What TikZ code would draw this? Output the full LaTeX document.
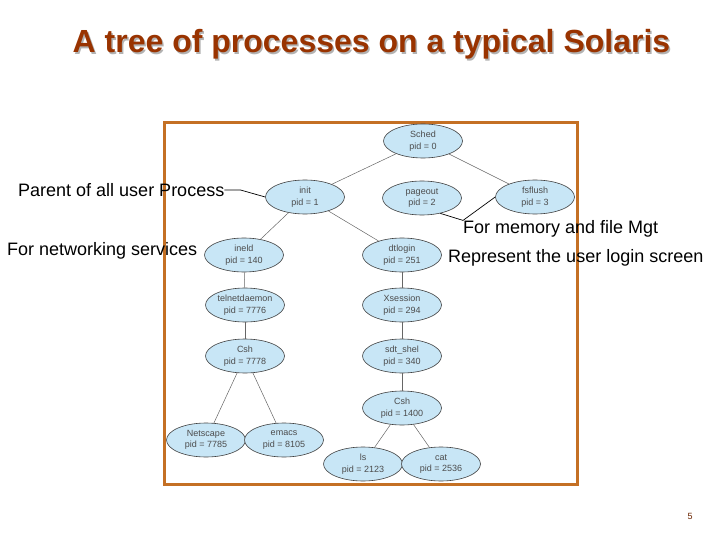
\documentclass[tikz,border=0pt]{standalone}
\usepackage{fontspec}
\setmainfont{Liberation Sans}
\usetikzlibrary{shapes.geometric}
\definecolor{titlered}{RGB}{153,51,0}
\definecolor{framebrown}{RGB}{196,112,36}
\definecolor{procblue}{RGB}{200,230,246}
\tikzset{
  proc/.style={ellipse, draw=black!75, line width=0.6pt, fill=procblue, minimum width=79pt, minimum height=34pt, inner sep=0pt, align=center, font=\fontsize{9}{11.5}\selectfont, text=black!70},
  note/.style={inner sep=0pt, font=\fontsize{18}{20}\selectfont, anchor=west},
  link/.style={line width=0.5pt, draw=black!60},
  pointer/.style={line width=0.7pt, draw=black}
}
\begin{document}
\begin{tikzpicture}[x=1pt, y=-1pt]
  \useasboundingbox (0,0) rectangle (720,540);
  % title
  \node[font=\bfseries\fontsize{32}{36}\selectfont, text=black!30] (titleshadow) at (373,46) {A tree of processes on a typical Solaris};
  \node[font=\bfseries\fontsize{32}{36}\selectfont, text=titlered] (title) at (371.5,44.5) {A tree of processes on a typical Solaris};
  \draw[framebrown, line width=3pt] (164,123) rectangle (577,484);

  \node[proc] (sched) at (423,141) {Sched\\pid = 0};
  \node[proc] (init) at (305,197) {init\\pid = 1};
  \node[proc] (pageout) at (422,198) {pageout\\pid = 2};
  \node[proc] (fsflush) at (535,197) {fsflush\\pid = 3};
  \node[proc] (ineld) at (244,255) {ineld\\pid = 140};
  \node[proc] (dtlogin) at (402,255) {dtlogin\\pid = 251};
  \node[proc] (telnet) at (245,305) {telnetdaemon\\pid = 7776};
  \node[proc] (xsession) at (402,305) {Xsession\\pid = 294};
  \node[proc] (csha) at (245,356) {Csh\\pid = 7778};
  \node[proc] (sdtshel) at (402,356) {sdt\_shel\\pid = 340};
  \node[proc] (cshb) at (402,408) {Csh\\pid = 1400};
  \node[proc] (netscape) at (206,440) {Netscape\\pid = 7785};
  \node[proc] (emacs) at (284,440) {emacs\\pid = 8105};
  \node[proc] (ls) at (363,464) {ls\\pid = 2123};
  \node[proc] (cat) at (441,464) {cat\\pid = 2536};

  \draw[link] (sched) -- (init);
  \draw[link] (sched) -- (fsflush);
  \draw[link] (init) -- (ineld);
  \draw[link] (init) -- (dtlogin);
  \draw[link] (ineld) -- (telnet);
  \draw[link] (telnet) -- (csha);
  \draw[link] (csha) -- (netscape);
  \draw[link] (csha) -- (emacs);
  \draw[link] (dtlogin) -- (xsession);
  \draw[link] (xsession) -- (sdtshel);
  \draw[link] (sdtshel) -- (cshb);
  \draw[link] (cshb) -- (ls);
  \draw[link] (cshb) -- (cat);

  % notes
  \node[note] (parent) at (18,190) {Parent of all user Process};
  \node[note] (network) at (7,251) {For networking services};
  \node[note] (memory) at (463,229) {For memory and file Mgt};
  \node[note] (login) at (448,258) {Represent the user login screen};
  \draw[pointer] (parent.east) -- ++(16,0) -- (init.west);
  \draw[pointer] (pageout.-40) -- (memory.north west) -- (fsflush.west);

  \node[font=\fontsize{9}{10}\selectfont, text=titlered!70!black] (page) at (690,516) {5};
\end{tikzpicture}
\end{document}
